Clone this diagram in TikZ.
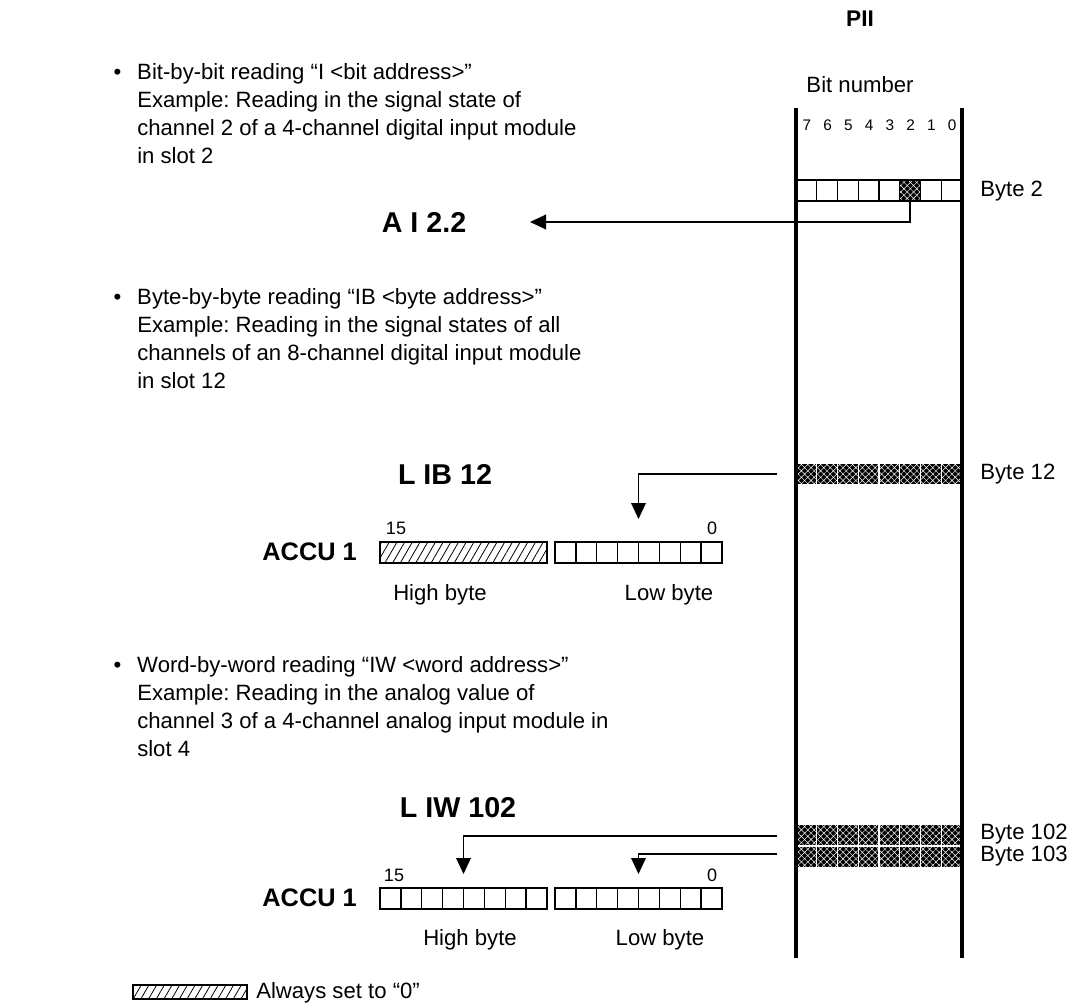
\documentclass[tikz,border=0pt]{standalone}
\usepackage{fontspec}
\setmainfont{Liberation Sans}
\usetikzlibrary{patterns,patterns.meta,arrows.meta}
\frenchspacing
\begin{document}
\begin{tikzpicture}[x=0.75pt,y=-0.75pt]
\tikzset{
  pii/.style={line width=3pt},
  cell/.style={line width=1pt},
  conn/.style={line width=1pt},
  arr/.style={conn,-{Triangle[length=12pt,width=11pt]}},
  darkcell/.style={fill=black,postaction={pattern={Hatch[angle=45,distance=3.4pt,line width=0.35pt]},pattern color=white}},
  zerofill/.style={pattern={Lines[angle=60,distance=5pt,line width=0.6pt]}},
  txt/.style={font=\fontsize{16.6}{21}\selectfont,inner sep=0pt},
  cmd/.style={font=\fontsize{21.5}{25}\selectfont\bfseries,inner sep=0pt},
  accu/.style={font=\fontsize{19}{22}\selectfont\bfseries,inner sep=0pt},
  small/.style={font=\fontsize{13.5}{15}\selectfont,inner sep=0pt},
  bitno/.style={font=\fontsize{11.5}{13}\selectfont,inner sep=0pt},
}
\useasboundingbox[fill=white] (0,0) rectangle (1089,1003);

% ---------- text blocks ----------
\node[txt,anchor=north west,align=left] (t1) at (137,63)
 {\llap{•\hspace{12pt}}Bit-by-bit reading “I <bit address>”\\
  Example: Reading in the signal state of\\
  channel 2 of a 4-channel digital input module\\
  in slot 2};
\node[txt,anchor=north west,align=left] (t2) at (137,288)
 {\llap{•\hspace{12pt}}Byte-by-byte reading “IB <byte address>”\\
  Example: Reading in the signal states of all\\
  channels of an 8-channel digital input module\\
  in slot 12};
\node[txt,anchor=north west,align=left] (t3) at (137,656)
 {\llap{•\hspace{12pt}}Word-by-word reading “IW <word address>”\\
  Example: Reading in the analog value of\\
  channel 3 of a 4-channel analog input module in\\
  slot 4};

% ---------- PII header ----------
\node[font=\fontsize{17}{20}\selectfont\bfseries,inner sep=0pt] (pii) at (860,19) {PII};
\node[txt] (bitnum) at (860,85) {Bit number};
\foreach \b [count=\i from 0] in {7,6,5,4,3,2,1,0}
  \node[bitno] (bn\b) at ({807+\i*20.75},125) {\b};

% ---------- Byte 2 ----------
\path[darkcell] (899.75,180) rectangle (920.5,201);
\draw[cell] (796,180) rectangle (962,201);
\foreach \i in {1,...,7} \draw[cell] ({796+\i*20.75},180) -- ({796+\i*20.75},201);
\node[txt,anchor=west] (lb2) at (980,191) {Byte 2};

% ---------- Byte 12 ----------
\foreach \i in {0,...,7} \path[darkcell] ({796+\i*20.75+0.7},464) rectangle ({796+(\i+1)*20.75-0.7},484);
\node[txt,anchor=west] (lb12) at (980,474) {Byte 12};

% ---------- Byte 102/103 ----------
\foreach \i in {0,...,7} {
  \path[darkcell] ({796+\i*20.75+0.7},825) rectangle ({796+(\i+1)*20.75-0.7},845);
  \path[darkcell] ({796+\i*20.75+0.7},847) rectangle ({796+(\i+1)*20.75-0.7},867);
}
\node[txt,anchor=west] (lb102) at (980,834) {Byte 102};
\node[txt,anchor=west] (lb103) at (980,856) {Byte 103};

% ---------- PII borders ----------
\draw[pii] (796,108) -- (796,958);
\draw[pii] (962,108) -- (962,958);

% ---------- commands ----------
\node[cmd] (ai) at (424,222) {A I 2.2};
\node[cmd] (lib) at (445,474) {L IB 12};
\node[cmd] (liw) at (458,808) {L IW 102};

% ---------- ACCU upper ----------
\node[accu,anchor=east] (acc1) at (357,552) {ACCU 1};
\path[zerofill] (380,542) rectangle (547,563);
\draw[cell] (380,542) rectangle (547,563);
\draw[cell] (555,542) rectangle (722,563);
\foreach \i in {1,...,7} \draw[cell] ({555+\i*20.875},542) -- ({555+\i*20.875},563);
\node[small] (h15a) at (396,528) {15};
\node[small] (z0a) at (712,528) {0};
\node[txt] (hba) at (440,595) {High byte};
\node[txt] (lba) at (669,595) {Low byte};

% ---------- ACCU lower ----------
\node[accu,anchor=east] (acc2) at (357,898) {ACCU 1};
\draw[cell] (380,888) rectangle (547,909);
\foreach \i in {1,...,7} \draw[cell] ({380+\i*20.875},888) -- ({380+\i*20.875},909);
\draw[cell] (555,888) rectangle (722,909);
\foreach \i in {1,...,7} \draw[cell] ({555+\i*20.875},888) -- ({555+\i*20.875},909);
\node[small] (h15b) at (394,875) {15};
\node[small] (z0b) at (712,875) {0};
\node[txt] (hbb) at (470,940) {High byte};
\node[txt] (lbb) at (660,940) {Low byte};

% ---------- connectors ----------
\coordinate (s2) at (910.1,201);
\coordinate (e2) at (530,222);
\draw[arr] (s2) |- (e2);
\coordinate (s12) at (777,474);
\coordinate (e12) at (638.5,519);
\draw[arr] (s12) -| (e12);
\coordinate (s102) at (777,836);
\coordinate (e102) at (463.5,874);
\draw[arr] (s102) -| (e102);
\coordinate (s103) at (777,854);
\coordinate (e103) at (638.5,874);
\draw[arr] (s103) -| (e103);

% ---------- legend ----------
\path[zerofill] (133,985) rectangle (247,999);
\draw[cell] (133,985) rectangle (247,999);
\node[txt,anchor=west] (leg) at (256,993) {Always set to “0”};
\end{tikzpicture}
\end{document}
